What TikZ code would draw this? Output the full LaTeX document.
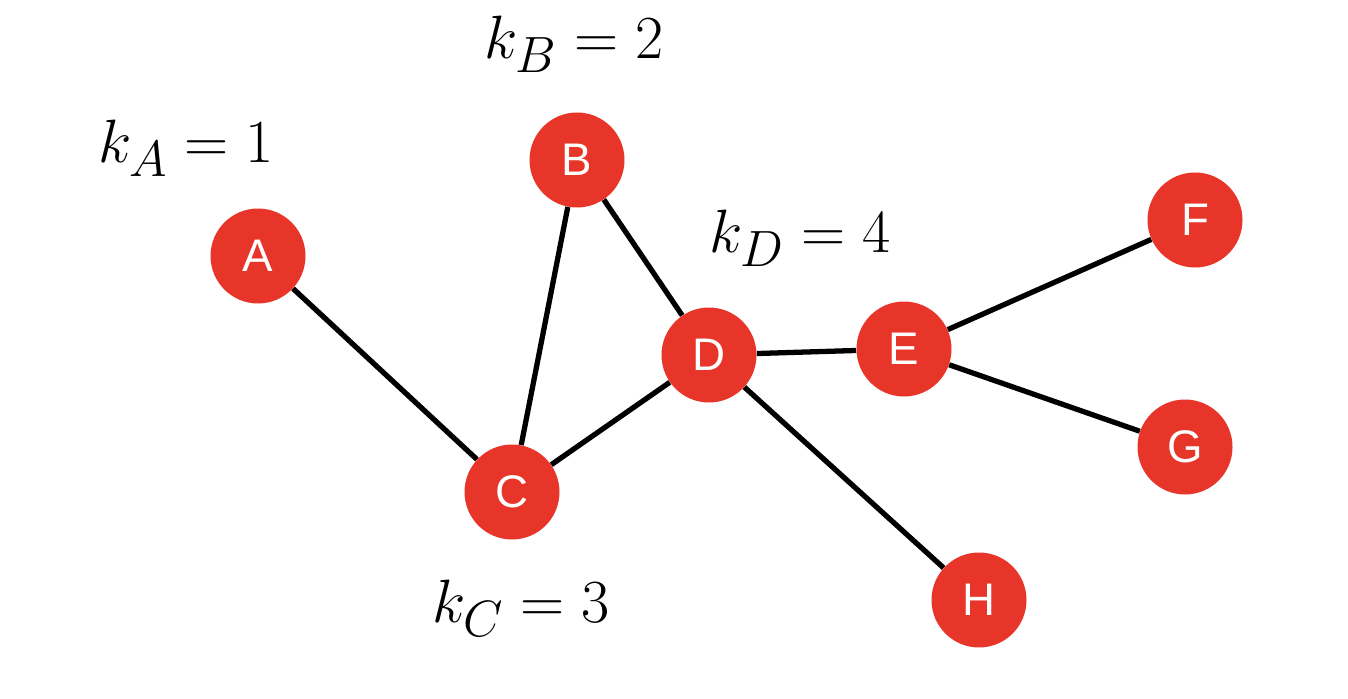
\documentclass[tikz,border=0pt]{standalone}
\usepackage{fontspec}
\setsansfont{Liberation Sans}
\definecolor{nodered}{HTML}{E8352A}
\tikzset{
  vertex/.style={circle, fill=nodered, draw=none, minimum size=1.9cm, inner sep=0pt,
    text=white, font=\sffamily\fontsize{26}{30}\selectfont},
  degree/.style={font=\Huge, scale=1.4, inner sep=0pt},
  edge/.style={line width=3pt, black}
}
\begin{document}
\begin{tikzpicture}
\useasboundingbox (0,0) rectangle (26.96,13.96);
% vertices
\node[vertex] (A) at (5.16,8.84) {A};
\node[vertex] (B) at (11.54,10.76) {B};
\node[vertex] (C) at (10.24,4.12) {C};
\node[vertex] (D) at (14.18,6.86) {D};
\node[vertex] (E) at (18.08,6.98) {E};
\node[vertex] (F) at (23.90,9.56) {F};
\node[vertex] (G) at (23.70,5.02) {G};
\node[vertex] (H) at (19.58,1.96) {H};
% edges
\draw[edge] (A) -- (C);
\draw[edge] (B) -- (C);
\draw[edge] (B) -- (D);
\draw[edge] (C) -- (D);
\draw[edge] (D) -- (E);
\draw[edge] (D) -- (H);
\draw[edge] (E) -- (F);
\draw[edge] (E) -- (G);
% degrees
\node[degree] (kA) at (3.72,11.00) {$k_A = 1$};
\node[degree] (kB) at (11.48,13.08) {$k_B = 2$};
\node[degree] (kD) at (16.0,9.20) {$k_D = 4$};
\node[degree] (kC) at (10.42,1.80) {$k_C = 3$};
\end{tikzpicture}
\end{document}
